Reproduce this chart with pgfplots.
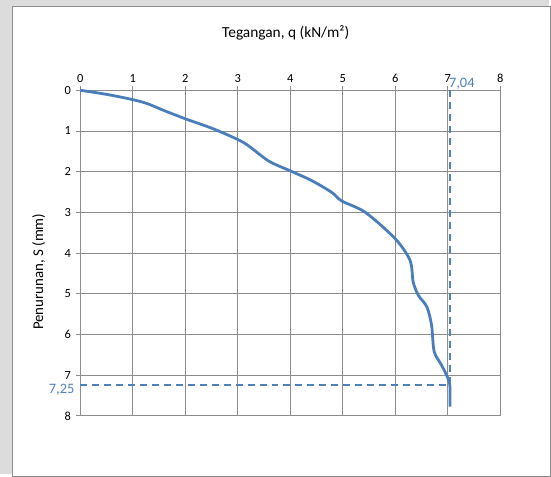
\documentclass[border=0pt]{standalone}
\usepackage{pgfplots}
\pgfplotsset{compat=1.18}
\usepackage{fontspec}
\setmainfont{Carlito}
\definecolor{xblue}{HTML}{4A7EBB}
\definecolor{lblue}{HTML}{4F81BD}
\definecolor{gridg}{HTML}{8C8C8C}
\definecolor{pageg}{HTML}{DCDCDC}
\begin{document}
\begin{tikzpicture}[x=1bp,y=1bp]
\fill[pageg] (0,0) rectangle (551,476);
\filldraw[fill=white,draw=gridg,line width=0.8bp] (12.7,-2) rectangle (553,470);
\useasboundingbox (0,0) rectangle (551,476);
\node[font=\fontsize{15.5}{17}\selectfont] at (287,442.5) {Tegangan, q (kN/m²)};
\node[font=\fontsize{15}{17}\selectfont,rotate=90] at (39,203) {Penurunan, S (mm)};
\begin{axis}[
  at={(80.7bp,58.3bp)}, anchor=south west,
  width=421.8bp, height=327bp, scale only axis,
  xmin=0, xmax=8, ymin=0, ymax=8,
  y dir=reverse,
  xtick={0,...,8}, ytick={0,...,8},
  xticklabel pos=right,
  xtick pos=right,
  ytick pos=left,
  tick align=outside,
  major tick length=4bp,
  grid=major,
  grid style={gridg, line width=0.8bp},
  axis line style={gridg, line width=0.8bp},
  tick style={gridg, line width=0.8bp},
  tick label style={font=\fontsize{12.5}{14}\selectfont},
  /pgf/number format/assume math mode=true,
  yticklabel style={xshift=-2bp},
  xticklabel style={yshift=0bp},
  clip=false,
]
\addplot[lblue, line width=2bp, dash pattern=on 7bp off 5bp] coordinates {(7.04,0) (7.04,7.25)};
\addplot[lblue, line width=2bp, dash pattern=on 7bp off 5bp] coordinates {(0,7.25) (7.04,7.25)};
\addplot[xblue, line width=2.8bp, smooth, tension=0.5] coordinates {
(0,0) (0.5,0.1) (1,0.23) (1.28,0.33) (1.6,0.5) (2.0,0.70) (2.52,0.94) (3.0,1.21)
(3.21,1.37) (3.59,1.74) (4.0,1.98) (4.41,2.22) (4.79,2.51) (4.98,2.72) (5.43,3.0)
(6.0,3.65) (6.28,4.18) (6.34,4.71) (6.44,5.04) (6.60,5.32) (6.69,5.77) (6.74,6.42)
(6.88,6.75) (7.0,7.07) (7.04,7.28) (7.04,7.77)};
\node[lblue, font=\fontsize{14.5}{16}\selectfont, anchor=base west, inner sep=0pt] at (axis cs:7.02,-0.08) {7,04};
\node[lblue, font=\fontsize{14.5}{16}\selectfont, anchor=base east, inner sep=0pt] at (axis cs:-0.11,7.46) {7,25};
\end{axis}
\end{tikzpicture}
\end{document}
